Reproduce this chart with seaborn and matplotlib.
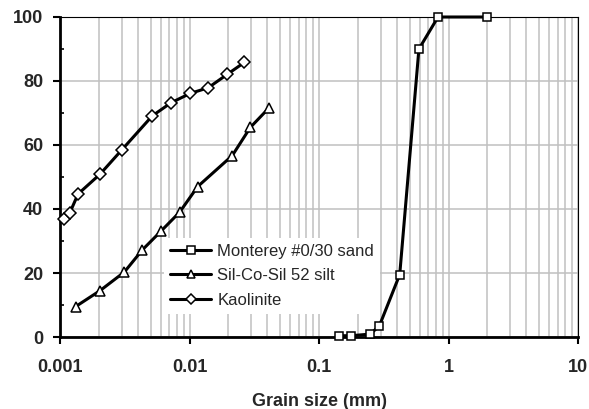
import matplotlib
matplotlib.use("Agg")
import matplotlib.pyplot as plt
import seaborn as sns
import pandas as pd
import numpy as np
from matplotlib.ticker import LogLocator, FixedLocator, NullFormatter

sns.set_theme(style="white")
plt.rcParams['font.family'] = ['Liberation Sans', 'DejaVu Sans']

# ---- data ----
sand_label = "Monterey #0/30 sand"
sand_x = [0.1435, 0.176, 0.248, 0.292, 0.42, 0.591, 0.83, 2.0]
sand_y = [0.4, 0.4, 0.9, 3.4, 19.5, 90.0, 100.0, 100.0]

silt_label = "Sil-Co-Sil 52 silt"
silt_x = [0.00132, 0.00204, 0.00314, 0.00432, 0.00603, 0.00839, 0.01156, 0.0214, 0.0295, 0.0409]
silt_y = [9.5, 14.5, 20.3, 27.2, 33.1, 39.0, 47.0, 56.7, 65.5, 71.5]

kao_label = "Kaolinite"
kao_x = [0.00108, 0.00119, 0.00138, 0.00204, 0.00299, 0.00516, 0.0072, 0.0101, 0.01396, 0.0196, 0.0265]
kao_y = [36.8, 38.8, 44.7, 50.9, 58.4, 69.1, 73.2, 76.1, 77.9, 82.1, 85.8]

x_ticks = [0.001, 0.01, 0.1, 1, 10]
x_ticklabels = ["0.001", "0.01", "0.1", "1", "10"]
y_ticks = [0, 20, 40, 60, 80, 100]
xlabel = "Grain size (mm)"

fig = plt.figure(figsize=(5.89, 4.09), dpi=100)
ax = fig.add_axes([60/589, 1-337/409, 518/589, 320/409])

series = [
    (sand_x, sand_y, sand_label, 's', 5.8),
    (silt_x, silt_y, silt_label, '^', 7.0),
    (kao_x, kao_y, kao_label, 'D', 6.0),
]
for xs, ys, lab, mk, ms in series:
    df = pd.DataFrame({"x": xs, "y": ys})
    sns.lineplot(data=df, x="x", y="y", ax=ax, sort=False, color="black",
                 linewidth=2.2, marker=mk, markersize=ms, markerfacecolor="white",
                 markeredgecolor="black", markeredgewidth=1.1, label=lab, zorder=3,
                 clip_on=False)

ax.set_xscale("log")
ax.set_xlim(0.001, 10)
ax.set_ylim(0, 100)

ax.xaxis.set_major_locator(FixedLocator(x_ticks))
ax.set_xticklabels(x_ticklabels)
ax.xaxis.set_minor_locator(LogLocator(base=10, subs=np.arange(2, 10), numticks=20))
ax.xaxis.set_minor_formatter(NullFormatter())
ax.set_yticks(y_ticks)
ax.yaxis.set_minor_locator(FixedLocator([10, 30, 50, 70, 90]))

ax.grid(True, which="major", axis="y", color="#c0c0c0", linewidth=1.1, zorder=0)
ax.grid(True, which="both", axis="x", color="#c0c0c0", linewidth=1.1, zorder=0)
ax.set_axisbelow(True)

for s in ["left", "bottom"]:
    ax.spines[s].set_linewidth(2.0)
    ax.spines[s].set_color("black")
for s in ["top", "right"]:
    ax.spines[s].set_linewidth(0.8)
    ax.spines[s].set_color("black")

ax.tick_params(axis="both", which="major", direction="out", length=5, width=1.5,
               color="black", labelsize=13, bottom=True, left=True)
ax.tick_params(axis="x", which="major", pad=11)
ax.tick_params(axis="y", which="major", pad=7)
ax.tick_params(axis="x", which="minor", bottom=False)
ax.tick_params(axis="y", which="minor", direction="in", length=3, width=1.2, left=True, color="black")
for lbl in ax.get_xticklabels() + ax.get_yticklabels():
    lbl.set_fontweight("bold")

ax.set_xlabel(xlabel, fontsize=13, fontweight="bold", labelpad=12)
ax.set_ylabel("")

leg = ax.legend(loc="upper left", bbox_to_anchor=(104/518, (337-238)/320),
                borderaxespad=0, frameon=True, fancybox=False, fontsize=12,
                handlelength=2.5, handletextpad=0.36, labelspacing=0.58,
                borderpad=0.34, markerscale=0.9)
leg.get_frame().set_facecolor("white")
leg.get_frame().set_edgecolor("none")
leg.get_frame().set_alpha(1.0)

fig.savefig("out.png", dpi=100)
